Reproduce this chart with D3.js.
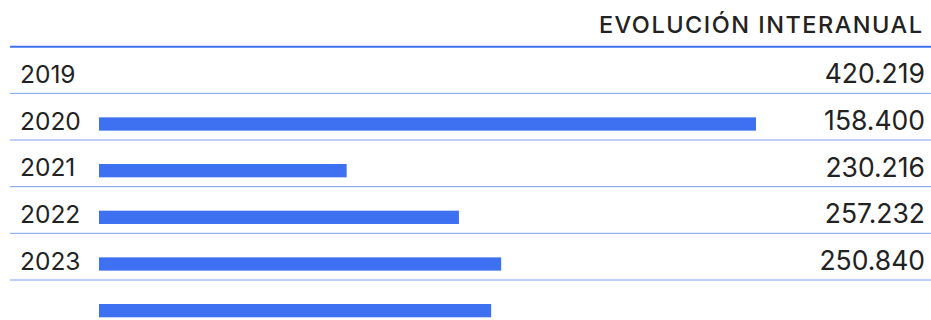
<!DOCTYPE html>
<html>

<head>
    <meta charset="utf-8">
    <title>Evolución interanual</title>
    <script src="https://d3js.org/d3.v7.min.js"></script>
    <style>
        body {
            margin: 0;
            background: #fff;
        }

        text {
            font-family: Inter, "Noto Sans", sans-serif;
            fill: #222;
        }
    </style>
</head>

<body>
    <div id="chart"></div>

    <script>
        const width = 931;
        const height = 320;

        const years = ["2019", "2020", "2021", "2022", "2023"];
        const values = [420219, 158400, 230216, 257232, 250840];
        const title = "EVOLUCIÓN INTERANUAL";

        const blue = "#3e71f1";

        const svg = d3.select("#chart")
            .append("svg")
            .attr("width", width)
            .attr("height", height);

        const y = d3.scaleBand()
            .domain(years)
            .range([46.7, 280])
            .padding(0);

        const x = d3.scaleLinear()
            .domain([0, d3.max(values)])
            .range([99, 756]);

        const fmt = v => d3.format(",")(v).replace(/,/g, ".");

        // title (letter-spacing adds a trailing gap, so shift the anchor)
        svg.append("text")
            .attr("x", 923.5)
            .attr("y", 33.3)
            .attr("text-anchor", "end")
            .style("font-size", "23.5px")
            .style("font-weight", 500)
            .style("letter-spacing", "1.5px")
            .text(title);

        // row lines
        svg.append("line")
            .attr("x1", 10).attr("x2", 931)
            .attr("y1", y(years[0])).attr("y2", y(years[0]))
            .attr("stroke", blue)
            .attr("stroke-width", 2);

        svg.selectAll(".row-line")
            .data(years)
            .join("line")
            .attr("class", "row-line")
            .attr("x1", 10).attr("x2", 931)
            .attr("y1", d => y(d) + y.bandwidth())
            .attr("y2", d => y(d) + y.bandwidth())
            .attr("stroke", "#7d9ef3")
            .attr("stroke-width", 1);

        // year labels
        svg.selectAll(".year")
            .data(years)
            .join("text")
            .attr("class", "year")
            .attr("x", 20)
            .attr("y", d => y(d) + 36.2)
            .style("font-size", "24.5px")
            .text(d => d);

        // value labels
        svg.selectAll(".value")
            .data(values)
            .join("text")
            .attr("class", "value")
            .attr("x", 925)
            .attr("y", (d, i) => y(years[i]) + 36.7)
            .attr("text-anchor", "end")
            .style("font-size", "26.5px")
            .text(d => fmt(d));

        // bars sit one row below their year
        svg.selectAll(".bar")
            .data(values)
            .join("rect")
            .attr("class", "bar")
            .attr("x", x(0))
            .attr("y", (d, i) => y(years[i]) + y.step() + 24)
            .attr("width", d => x(d) - x(0))
            .attr("height", 13.3)
            .attr("fill", blue);
    </script>
</body>

</html>
